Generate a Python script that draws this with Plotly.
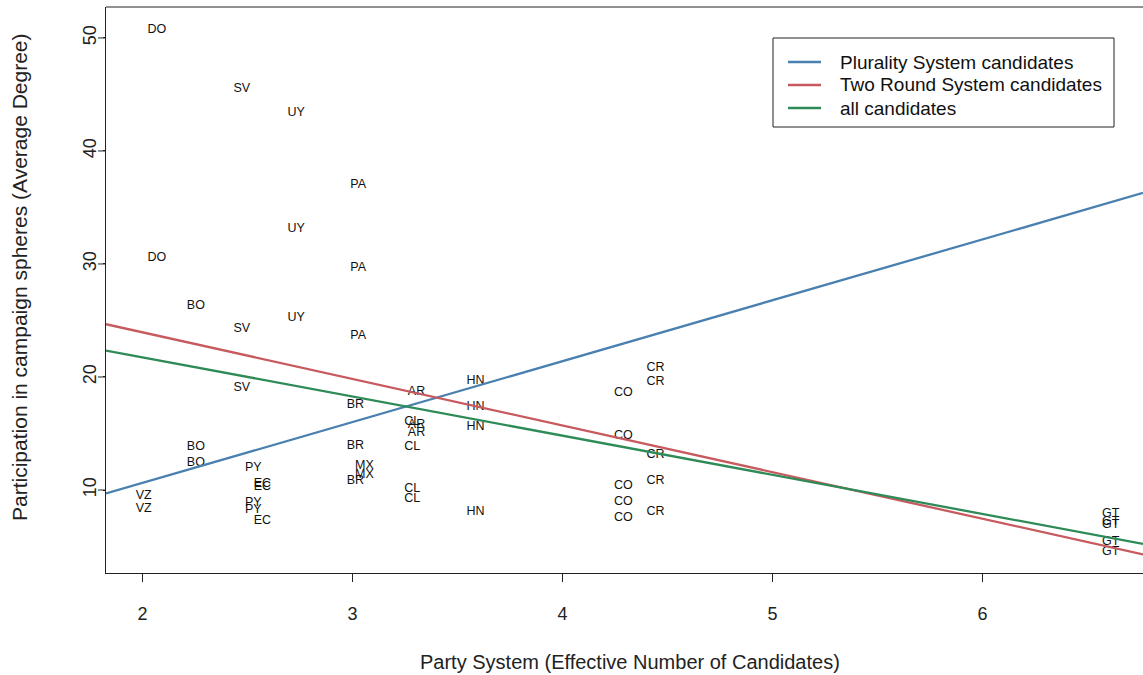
import plotly.graph_objects as go

# ---- data ----
countries = ["DO", "SV", "UY", "PA", "BO", "BR", "AR", "HN", "CL", "PY", "MX", "EC", "VZ", "CO", "CR", "GT"]
enc = {  # effective number of candidates per country
    "DO": 2.068, "SV": 2.473, "UY": 2.732, "PA": 3.027, "BO": 2.254, "BR": 3.014,
    "AR": 3.305, "HN": 3.586, "CL": 3.284, "PY": 2.528, "MX": 3.057, "EC": 2.571,
    "VZ": 2.006, "CO": 4.290, "CR": 4.443, "GT": 6.610,
}
degree = {  # average degree of each candidate
    "DO": [50.71, 30.56],
    "SV": [45.46, 24.22, 19.00],
    "UY": [43.34, 33.10, 25.25],
    "PA": [36.99, 29.62, 23.65],
    "BO": [26.28, 13.83, 12.42],
    "BR": [17.52, 13.92, 10.82],
    "AR": [18.70, 15.75, 15.07],
    "HN": [19.67, 17.37, 15.55, 8.08],
    "CL": [16.04, 13.83, 10.06, 9.20],
    "PY": [11.95, 8.85, 8.23],
    "MX": [12.12, 11.33],
    "EC": [10.53, 10.24, 7.28],
    "VZ": [9.47, 8.29],
    "CO": [18.56, 14.78, 10.35, 8.96, 7.55],
    "CR": [20.77, 19.58, 13.10, 10.82, 8.08],
    "GT": [7.88, 7.17, 6.90, 5.40, 4.51],
}

# regression lines (intercept, slope)
fit_names = ["Plurality System candidates", "Two Round System candidates", "all candidates"]
fit_intercepts = [-0.147, 32.20, 28.67]
fit_slopes = [5.387, -4.124, -3.465]
fit_colors = ["#4a80b0", "#c75a5e", "#2e8b57"]

x_range = [1.8262, 6.7643]
y_range = [2.655, 52.74]
x_ticks = [2, 3, 4, 5, 6]
y_ticks = [10, 20, 30, 40, 50]

# ---- build ----
lab, xs, ys = [], [], []
for c in countries:
    for v in degree[c]:
        lab.append(c)
        xs.append(enc[c])
        ys.append(v)

FONT = "Arial, Liberation Sans, sans-serif"
L, R, T, B = 106, 1143, 7, 573  # plot area in pixels


def px(x):
    return (x - L) / (R - L)


def py(y):
    return (B - y) / (B - T)


fig = go.Figure()
fig.add_trace(go.Scatter(
    x=xs, y=ys, text=lab, mode="text", textposition="middle center",
    textfont=dict(family=FONT, size=12.5, color="#111"), showlegend=False, hoverinfo="text+x+y",
))
for name, a, b, col in zip(fit_names, fit_intercepts, fit_slopes, fit_colors):
    fig.add_trace(go.Scatter(
        x=x_range, y=[a + b * x_range[0], a + b * x_range[1]], mode="lines", name=name,
        line=dict(color=col, width=2.3), showlegend=False,
    ))

shapes = [
    dict(type="line", xref="paper", yref="paper", x0=0, x1=1, y0=1, y1=1,
         line=dict(color="#222", width=1)),
]
# full-length y tick marks (labels sit close to the axis as in the reference)
for t in y_ticks:
    shapes.append(dict(type="line", xref="paper", yref="y", x0=-8 / (R - L), x1=0, y0=t, y1=t,
                       line=dict(color="#222", width=1)))
# legend drawn as a box with line samples and labels
shapes.append(dict(type="rect", xref="paper", yref="paper", x0=px(773), x1=px(1114), y0=py(38), y1=py(127),
                   line=dict(color="#222", width=1), fillcolor="white", layer="above"))
annotations = [
    dict(text="Party System (Effective Number of Candidates)", xref="paper", yref="paper",
         x=0.5, y=0, xshift=5, yshift=-89, showarrow=False, xanchor="center", yanchor="middle",
         font=dict(size=20, color="#222")),
    dict(text="Participation in campaign spheres (Average Degree)", xref="paper", yref="paper",
         x=0, y=py(277), xshift=-86, showarrow=False, xanchor="center", yanchor="middle",
         textangle=-90, font=dict(size=21, color="#222")),
]
for i, (name, col) in enumerate(zip(fit_names, fit_colors)):
    yy = 62 + 23 * i
    shapes.append(dict(type="line", xref="paper", yref="paper", x0=px(788), x1=px(821),
                       y0=py(yy), y1=py(yy), line=dict(color=col, width=2.3), layer="above"))
    annotations.append(dict(text=name, xref="paper", yref="paper", x=px(838), y=py(yy),
                            xanchor="left", yanchor="middle", showarrow=False,
                            font=dict(size=19, color="#111")))

fig.update_layout(
    width=1143, height=675,
    margin=dict(l=L, r=1143 - R, t=T, b=675 - B),
    paper_bgcolor="white", plot_bgcolor="white",
    font=dict(family=FONT, color="#222"),
    showlegend=False,
    xaxis=dict(
        range=x_range, tickvals=x_ticks, ticks="outside", ticklen=8, tickcolor="#222",
        showline=True, linecolor="#222", linewidth=1, showgrid=False, zeroline=False,
        tickfont=dict(size=18, color="#222"), ticklabelstandoff=16,
    ),
    yaxis=dict(
        range=y_range, tickvals=y_ticks, ticks="outside", ticklen=2, tickcolor="#222",
        showline=True, linecolor="#222", linewidth=1, showgrid=False, zeroline=False,
        tickfont=dict(size=18, color="#222"), tickangle=-90,
    ),
    shapes=shapes,
    annotations=annotations,
)

fig.write_html("out.html")
